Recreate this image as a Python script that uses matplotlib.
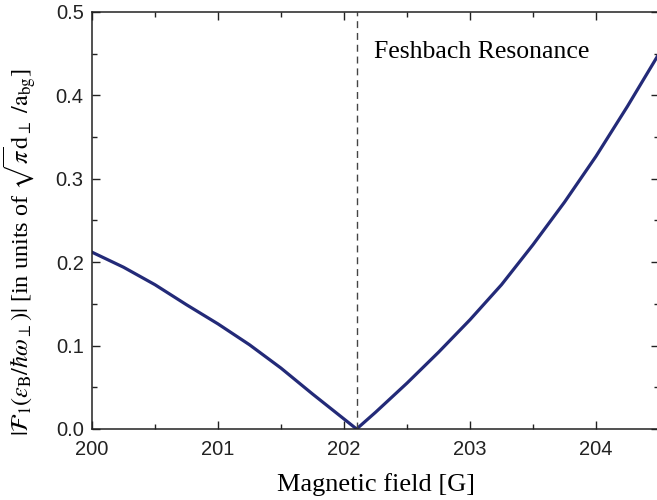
import numpy as np
import matplotlib.pyplot as plt
from matplotlib.ticker import MultipleLocator, FormatStrFormatter

plt.rcParams['mathtext.fontset'] = 'stix'

# values
b_left = [200.0, 200.25, 200.5, 200.75, 201.0, 201.25, 201.5, 201.75, 202.0, 202.1]
f_left = [0.212, 0.194, 0.173, 0.149, 0.126, 0.101, 0.073, 0.042, 0.012, 0.0]
b_right = [202.1, 202.25, 202.5, 202.75, 203.0, 203.25, 203.5, 203.75, 204.0, 204.25, 204.5]
f_right = [0.0, 0.020, 0.055, 0.092, 0.131, 0.173, 0.221, 0.272, 0.327, 0.387, 0.450]
b_res = 202.1

line_color = '#232a78'

fig = plt.figure(figsize=(6.57, 5.0), dpi=100)
ax = fig.add_axes([92/657, 1 - 429/500, 567/657, 417/500])

ax.plot(b_left + b_right[1:], f_left + f_right[1:], color=line_color, lw=2.3)
ax.axvline(b_res, color='#444444', lw=1.0, ls=(0, (5, 3.5)))

ax.text(203.09, 0.452, 'Feshbach Resonance', family='Liberation Serif', fontsize=18.5,
        ha='center', va='center')

ax.set_xlim(200, 204.5)
ax.set_ylim(0, 0.5)
ax.xaxis.set_major_locator(MultipleLocator(1))
ax.xaxis.set_minor_locator(MultipleLocator(0.5))
ax.yaxis.set_major_locator(MultipleLocator(0.1))
ax.yaxis.set_minor_locator(MultipleLocator(0.05))
ax.yaxis.set_major_formatter(FormatStrFormatter('%.1f'))

ax.tick_params(which='both', direction='in', top=True, right=True, width=1.0,
               labelsize=14.5, colors='#222222')
ax.tick_params(which='major', length=6)
ax.tick_params(which='minor', length=3.5)
ax.tick_params(axis='x', pad=8)
ax.tick_params(axis='y', pad=6)
for lab in ax.get_xticklabels() + ax.get_yticklabels():
    lab.set_family('Liberation Sans')
for sp in ax.spines.values():
    sp.set_linewidth(1.1)
    sp.set_color('#222222')

ax.set_xlabel('Magnetic field [G]', family='Liberation Serif', fontsize=19, labelpad=10)
ax.set_ylabel(r'$|\mathcal{F}_{\mathrm{1}}(\epsilon_{\mathrm{B}}/\hbar\omega_{\perp})|$'
              r' [in units of $\sqrt{\pi}\mathrm{d}_{\perp}\ /\mathrm{a}_{\mathrm{bg}}$]',
              family='Liberation Serif', fontsize=17.5, va='center', ha='center')
ax.yaxis.set_label_coords(-0.127, 0.424)

fig.savefig('out.png', dpi=100)
